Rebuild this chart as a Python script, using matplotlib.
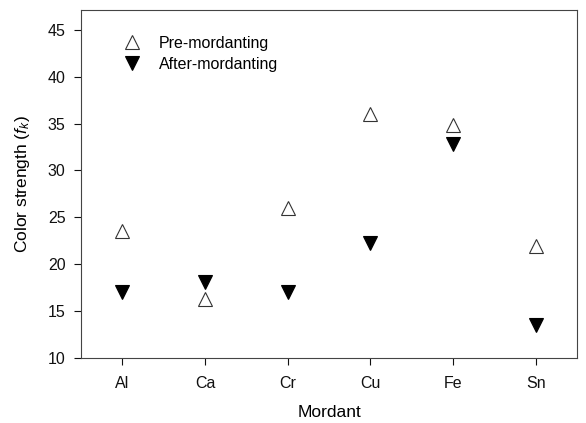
import matplotlib
matplotlib.use("Agg")
import matplotlib.pyplot as plt
import numpy as np

mordants = ["Al", "Ca", "Cr", "Cu", "Fe", "Sn"]
pre_mordanting = [23.5, 16.3, 26.0, 36.0, 34.8, 21.9]
after_mordanting = [17.0, 18.1, 17.0, 22.3, 32.8, 13.5]
yticks = [10, 15, 20, 25, 30, 35, 40, 45]

plt.rcParams['font.family'] = ['Liberation Sans', 'DejaVu Sans']
plt.rcParams['mathtext.fontset'] = 'custom'
plt.rcParams['mathtext.rm'] = 'Liberation Sans'
plt.rcParams['mathtext.it'] = 'Liberation Sans:italic'

fig = plt.figure(figsize=(5.86, 4.23), dpi=100)
ax = fig.add_axes([0.138, 0.154, 0.847, 0.822])

x = np.arange(len(mordants))
ax.plot(x, pre_mordanting, linestyle='none', marker='^', markersize=10.5,
        markerfacecolor='white', markeredgecolor='#333333', markeredgewidth=0.8,
        label='Pre-mordanting')
ax.plot(x, after_mordanting, linestyle='none', marker='v', markersize=10.5,
        markerfacecolor='black', markeredgecolor='black', markeredgewidth=0.8,
        label='After-mordanting')

ax.set_xlim(-0.5, len(mordants) - 0.5)
ax.set_ylim(10, 47.1)
ax.set_xticks(x)
ax.set_xticklabels(mordants)
ax.set_yticks(yticks)
ax.tick_params(axis='both', direction='out', length=5, width=0.8, labelsize=11.5,
               colors='#111111', pad=6)
ax.tick_params(axis='x', pad=8)
for s in ax.spines.values():
    s.set_linewidth(0.8)
    s.set_color('#444444')

ax.set_xlabel('Mordant', fontsize=12.5, labelpad=10)
ax.set_ylabel('Color strength ($f_k$)', fontsize=12.5, labelpad=11)

ax.legend(loc='upper left', frameon=False, fontsize=11.5, handletextpad=0.7,
          bbox_to_anchor=(0.058, 0.944), borderaxespad=0.0, labelspacing=0.35)

fig.savefig('out.png', dpi=100)
